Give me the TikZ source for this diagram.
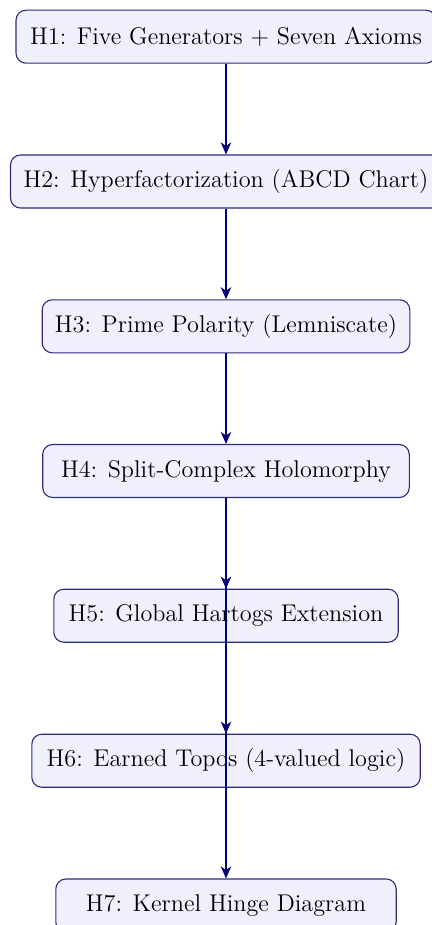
\documentclass[tikz,border=0pt]{standalone}
\usetikzlibrary{arrows.meta}
\definecolor{linecol}{RGB}{0,0,120}
\definecolor{boxfill}{RGB}{240,240,252}
\definecolor{boxdraw}{RGB}{45,45,125}
\begin{document}
\begin{tikzpicture}[x=1pt,y=1pt,
  hbox/.style={draw=boxdraw, line width=0.55pt, fill=boxfill, rounded corners=5pt,
    minimum height=26.5pt, inner xsep=5pt, inner ysep=0pt,
    font=\fontsize{12.1}{14}\selectfont},
  conn/.style={draw=linecol, line width=1pt, -{Stealth[length=6pt,width=5.2pt,inset=1.8pt]}}]
\useasboundingbox (0,0) rectangle (216,-462.5);
\begin{scope}
\clip (0,0) rectangle (216,-462.5);
\node[hbox, minimum width=210pt] (h1) at (113,-18.35) {H1: Five Generators + Seven Axioms};
\node[hbox, minimum width=215.5pt] (h2) at (113,-90.75) {H2: Hyperfactorization (ABCD Chart)};
\node[hbox, minimum width=183.8pt] (h3) at (113,-163.15) {H3: Prime Polarity (Lemniscate)};
\node[hbox, minimum width=183.3pt] (h4) at (113,-235.5) {H4: Split-Complex Holomorphy};
\node[hbox, minimum width=172.2pt] (h5) at (113,-307.85) {H5: Global Hartogs Extension};
\node[hbox, minimum width=194.2pt] (h6) at (113,-380.35) {H6: Earned Topos (4-valued logic)};
\node[hbox, minimum width=170.2pt] (h7) at (113,-452.75) {H7: Kernel Hinge Diagram};
\draw[conn] (h1) -- (h2);
\draw[conn] (h2) -- (h3);
\draw[conn] (h3) -- (h4);
\draw[conn] (h4) -- (h5);
\draw[conn] (h4.south) -- (h6.north);
\draw[conn] (h4.south) -- (h7.north);
\end{scope}
\end{tikzpicture}
\end{document}
